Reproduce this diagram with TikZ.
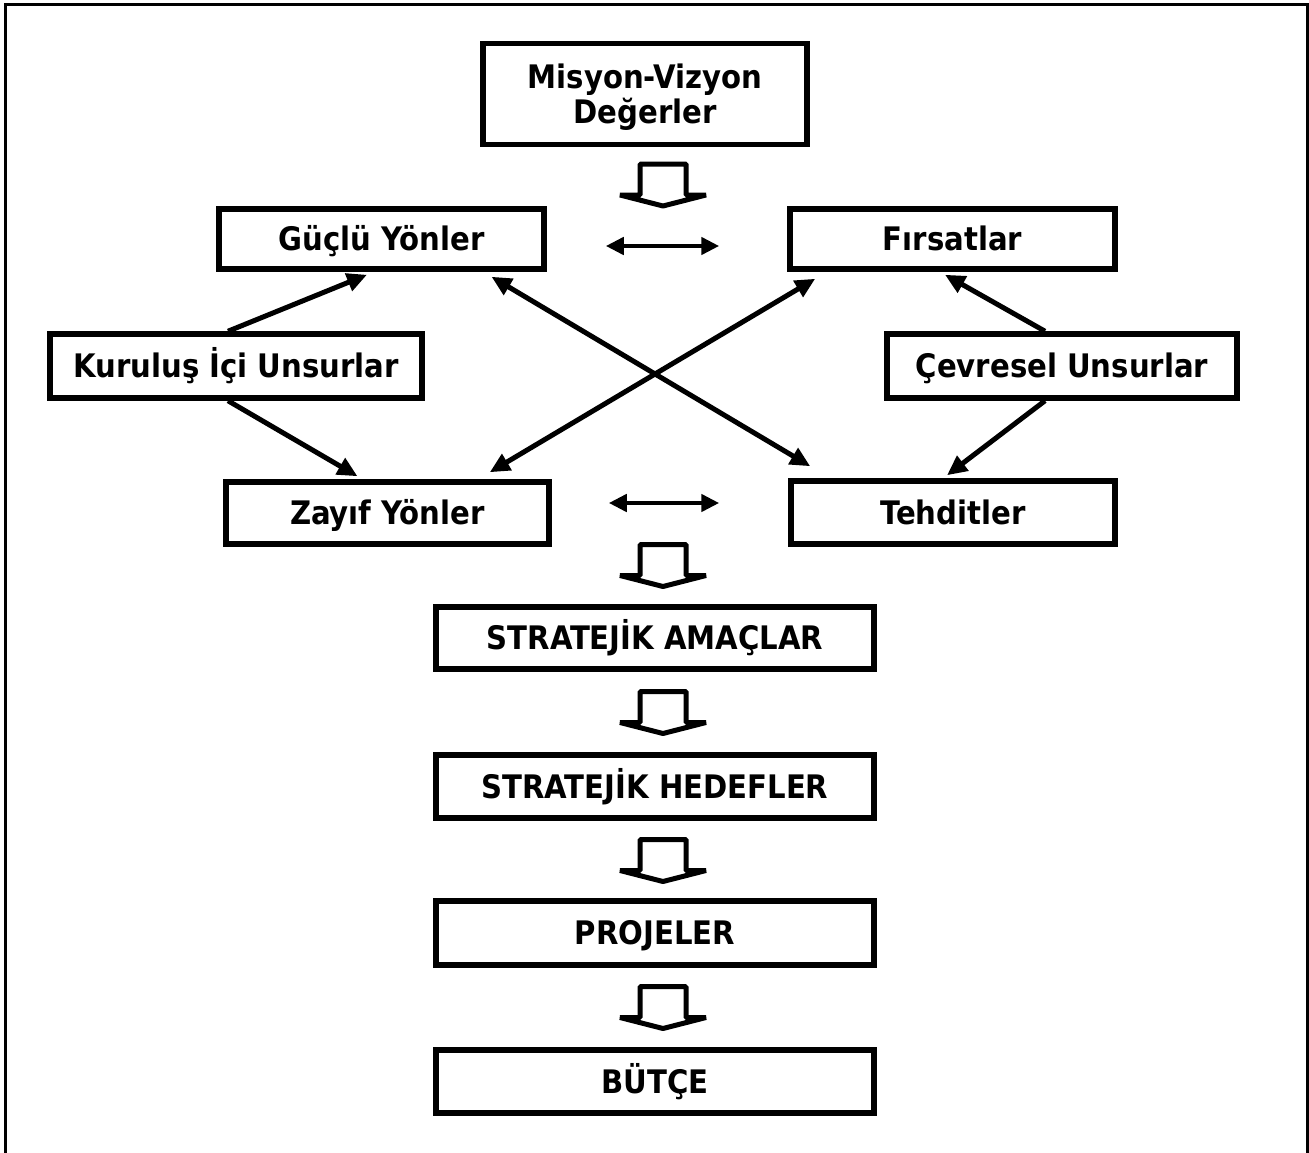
\documentclass[tikz,border=0pt]{standalone}
\usepackage{fontspec}
\newfontfamily\lab{DejaVu Sans Condensed Bold}
\usetikzlibrary{arrows.meta}
\begin{document}
\begin{tikzpicture}[x=1pt,y=-1pt,
  box/.style={draw, line width=5.5pt, inner sep=0pt, align=center,
    font=\lab\fontsize{32.4}{35}\selectfont, text height=23.6pt, text depth=0pt},
  conn/.style={line width=5pt, -{Triangle[length=20pt,width=18pt]}},
  dconn/.style={line width=5pt, {Triangle[length=20pt,width=18pt]}-{Triangle[length=20pt,width=18pt]}},
  hconn/.style={line width=4.5pt, {Triangle[length=18pt,width=17pt]}-{Triangle[length=18pt,width=17pt]}},
  downarr/.pic={\draw[line width=5pt, line join=bevel]
     (-23,0) -- (23,0) -- (23,31) -- (43,31) -- (0,42) -- (-43,31) -- (-23,31) -- cycle;}
]
\useasboundingbox (0,0) rectangle (1309,1153);
\begin{scope}
\clip (0,0) rectangle (1309,1153);
\draw[line width=3pt] (5.5,1170) -- (5.5,4.5) -- (1307.5,4.5) -- (1307.5,1170);
\end{scope}

\node[box, minimum width=324pt, minimum height=101pt, text height=59.6pt] (mis) at (645,94) {Misyon-Vizyon\\Değerler};
\node[box, minimum width=325pt, minimum height=60pt] (gu) at (381.5,239) {Güçlü Yönler};
\node[box, minimum width=325pt, minimum height=60pt] (fi) at (952.5,239) {Fırsatlar};
\node[box, minimum width=372pt, minimum height=64pt] (ku) at (236,366) {Kuruluş İçi Unsurlar};
\node[box, minimum width=350pt, minimum height=64pt] (ce) at (1062,366) {Çevresel Unsurlar};
\node[box, minimum width=323pt, minimum height=62pt] (za) at (387.5,513) {Zayıf Yönler};
\node[box, minimum width=324pt, minimum height=63pt] (te) at (953,512.5) {Tehditler};
\node[box, minimum width=438pt, minimum height=62pt] (am) at (655,638) {STRATEJİK AMAÇLAR};
\node[box, minimum width=438pt, minimum height=63pt] (he) at (655,786.5) {STRATEJİK HEDEFLER};
\node[box, minimum width=438pt, minimum height=64pt] (pr) at (655,933) {PROJELER};
\node[box, minimum width=438pt, minimum height=63pt] (bu) at (655,1081.5) {BÜTÇE};

\pic at (663,164) {downarr};
\pic at (663,544.5) {downarr};
\pic at (663,691.5) {downarr};
\pic at (663,839.5) {downarr};
\pic at (663,986.5) {downarr};

\draw[hconn] ([xshift=59pt,yshift=-7pt]gu.east) -- ([xshift=-68pt,yshift=-7pt]fi.west);
\draw[hconn] ([xshift=57pt,yshift=10pt]za.east) -- ([xshift=-69pt,yshift=9.5pt]te.west);

\draw[conn] ([xshift=-8pt]ku.north) -- ([xshift=-14.5pt,yshift=-3pt]gu.south);
\draw[conn] ([xshift=-8pt]ku.south) -- ([xshift=-30pt,yshift=3pt]za.north);
\draw[conn] ([xshift=-17pt]ce.north) -- ([xshift=-7.5pt,yshift=-3pt]fi.south);
\draw[conn] ([xshift=-17pt]ce.south) -- ([xshift=-6pt,yshift=3pt]te.north);

\draw[dconn] ([xshift=110pt,yshift=-5pt]gu.south) -- ([xshift=22pt,yshift=12pt]te.north west);
\draw[dconn] ([xshift=28pt,yshift=-7pt]fi.south west) -- ([xshift=-62pt,yshift=7pt]za.north east);
\end{tikzpicture}
\end{document}
